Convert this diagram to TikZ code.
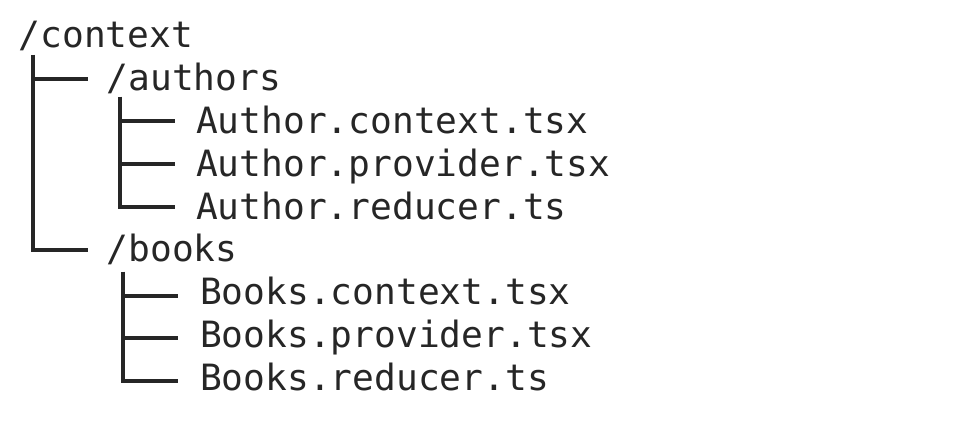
\documentclass[tikz,border=0pt]{standalone}
\usepackage{fontspec}
\setmonofont{DejaVu Sans Mono}
\usetikzlibrary{positioning}
\definecolor{ink}{HTML}{262626}

\begin{document}
\begin{tikzpicture}[x=1pt,y=-1pt,
  every node/.style={font=\ttfamily\fontsize{36.2}{40}\selectfont,text=ink,inner sep=0pt},
  entry/.style={anchor=base west},
  branch/.style={draw=ink,line width=4pt}]
\useasboundingbox (0,0) rectangle (968,422);
% folders and files, one row each
\node[entry] (ctx) at (18.5,48) {/context};
\node[below=43pt of ctx.base west,entry,xshift=88pt] (authors) {/authors};
\node[below=42.5pt of authors.base west,entry,xshift=89.5pt] (actx) {Author.context.tsx};
\node[below=42.75pt of actx.base west,entry] (aprov) {Author.provider.tsx};
\node[below=42.75pt of aprov.base west,entry] (ared) {Author.reducer.ts};
\node[below=42.75pt of ared.base west,entry,xshift=-89.5pt] (books) {/books};
\node[below=42.75pt of books.base west,entry,xshift=93.5pt] (bctx) {Books.context.tsx};
\node[below=42.75pt of bctx.base west,entry] (bprov) {Books.provider.tsx};
\node[below=42.75pt of bprov.base west,entry] (bred) {Books.reducer.ts};
% tree lines
\foreach \c in {authors,books}
  \draw[branch] ([shift={(14pt,-7pt)}]ctx.base west) |- ([shift={(-19pt,12pt)}]\c.base west);
\foreach \c in {actx,aprov,ared}
  \draw[branch] ([shift={(13.5pt,-6pt)}]authors.base west) |- ([shift={(-21pt,12pt)}]\c.base west);
\foreach \c in {bctx,bprov,bred}
  \draw[branch] ([shift={(16.5pt,-10pt)}]books.base west) |- ([shift={(-22pt,9pt)}]\c.base west);
\end{tikzpicture}
\end{document}
